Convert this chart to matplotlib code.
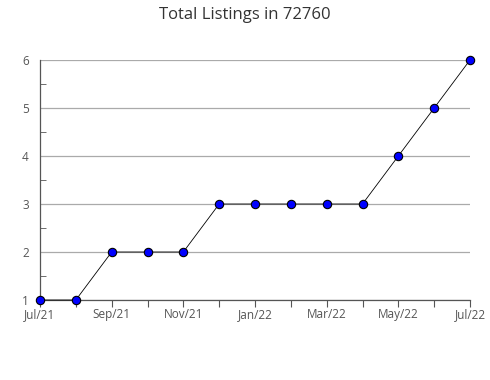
import matplotlib.pyplot as plt
from matplotlib.ticker import MultipleLocator

plt.rcParams['font.family'] = ['Open Sans', 'DejaVu Sans']

# monthly data, Jul/21 .. Jul/22
months = ["Jul/21", "Aug/21", "Sep/21", "Oct/21", "Nov/21", "Dec/21", "Jan/22",
          "Feb/22", "Mar/22", "Apr/22", "May/22", "Jun/22", "Jul/22"]
listings = [1, 1, 2, 2, 2, 3, 3, 3, 3, 3, 4, 5, 6]

fig = plt.figure(figsize=(4.9, 3.8), dpi=100)
ax = fig.add_axes([40 / 490, 80 / 380, 430 / 490, 240 / 380])

x = list(range(len(months)))
ax.plot(x, listings, color='black', linewidth=0.6, marker='o', markersize=6,
        markerfacecolor='#0000ff', markeredgecolor='black', markeredgewidth=0.8,
        zorder=3, clip_on=False)

ax.set_xlim(0, len(months) - 1)
ax.set_ylim(1, 6)
ax.set_xticks(x)
ax.set_xticklabels([m if i % 2 == 0 else "" for i, m in enumerate(months)])
ax.yaxis.set_major_locator(MultipleLocator(1))
ax.yaxis.set_minor_locator(MultipleLocator(0.5))
ax.grid(axis='y', color='#aaaaaa', linewidth=0.9)
ax.set_axisbelow(True)

for s in ['top', 'right']:
    ax.spines[s].set_visible(False)
for s in ['left', 'bottom']:
    ax.spines[s].set_color('#555555')
    ax.spines[s].set_linewidth(0.9)

ax.tick_params(axis='x', direction='out', length=5, color='#555555', labelsize=8.5,
               labelcolor='#555555', pad=1)
ax.tick_params(axis='y', which='major', length=0, labelsize=8.5, labelcolor='#555555', pad=8)
ax.tick_params(axis='y', which='minor', direction='in', length=4, color='#555555')

fig.suptitle("Total Listings in 72760", y=1 - 15 / 380, va='center', fontsize=12, color='#333333')

fig.savefig("out.png", dpi=100)
